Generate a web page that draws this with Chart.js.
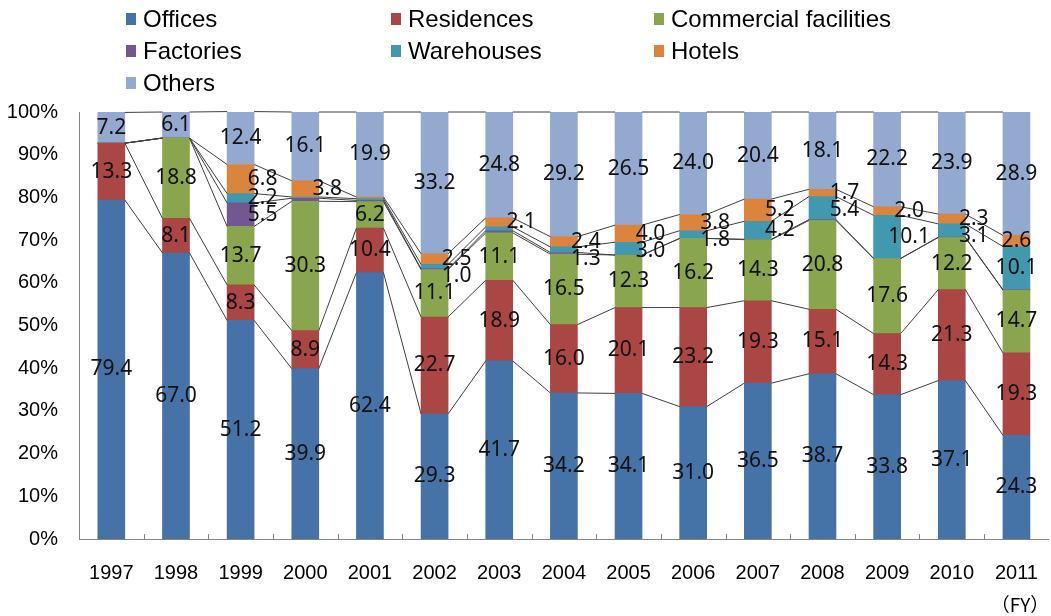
<!DOCTYPE html>
<html>
<head>
<meta charset="utf-8">
<script src="https://cdn.jsdelivr.net/npm/chart.js@4.4.0/dist/chart.umd.min.js"></script>
<style>
    body { margin: 0; overflow: hidden; background: #fff; width: 1051px; height: 616px; position: relative; font-family: 'Liberation Sans', Arial, sans-serif; }
    #wrap { position: absolute; left: 0; top: 0; width: 1060px; height: 616px; }
    #legend { position: absolute; left: 126px; top: 3px; display: grid; grid-template-columns: 265px 263px 300px; }
    .item { display: flex; align-items: center; height: 32px; font-size: 24px; color: #000; white-space: nowrap; }
    .sw { width: 10px; height: 12px; margin-right: 7px; flex: none; }
    #fy { position: absolute; left: 980px; width: 80px; text-align: center; top: 594px; line-height: 20px; font-size: 19px; font-family: 'Noto Sans CJK JP', sans-serif; color: #000; }
</style>
</head>
<body>
<div id="wrap"><canvas id="chart" width="1060" height="616"></canvas></div>
<div id="legend"></div>
<div id="fy">（FY）</div>
<script>
// 用途別構成比（%）
const years = ['1997', '1998', '1999', '2000', '2001', '2002', '2003', '2004', '2005', '2006', '2007', '2008', '2009', '2010', '2011'];
const offices     = [79.4, 67.0, 51.2, 39.9, 62.4, 29.3, 41.7, 34.2, 34.1, 31.0, 36.5, 38.7, 33.8, 37.1, 24.3];
const residences  = [13.3,  8.1,  8.3,  8.9, 10.4, 22.7, 18.9, 16.0, 20.1, 23.2, 19.3, 15.1, 14.3, 21.3, 19.3];
const commercial  = [ 0.0, 18.8, 13.7, 30.3,  6.2, 11.1, 11.1, 16.5, 12.3, 16.2, 14.3, 20.8, 17.6, 12.2, 14.7];
const factories   = [ 0.0,  0.0,  5.5,  0.7,  0.3,  0.2,  0.5,  0.4,  0.0,  0.0,  0.1,  0.2,  0.0,  0.1,  0.1];
const warehouses  = [ 0.0,  0.0,  2.2,  0.3,  0.4,  1.0,  0.9,  1.3,  3.0,  1.8,  4.2,  5.4, 10.1,  3.1, 10.1];
const hotels      = [ 0.0,  0.0,  6.8,  3.8,  0.4,  2.5,  2.1,  2.4,  4.0,  3.8,  5.2,  1.7,  2.0,  2.3,  2.6];
const others      = [ 7.2,  6.1, 12.4, 16.1, 19.9, 33.2, 24.8, 29.2, 26.5, 24.0, 20.4, 18.1, 22.2, 23.9, 28.9];

const seriesNames  = ['Offices', 'Residences', 'Commercial facilities', 'Factories', 'Warehouses', 'Hotels', 'Others'];
const seriesColors = ['#4572A7', '#AA4643', '#89A54E', '#71588F', '#4198AF', '#DB843D', '#93A9CF'];
const seriesValues = [offices, residences, commercial, factories, warehouses, hotels, others];
const yTicks = [0, 10, 20, 30, 40, 50, 60, 70, 80, 90, 100];

// small segments get their label beside the bar
const sideLabelled = [3, 4, 5];

// legend, three columns
const legend = document.getElementById('legend');
seriesNames.forEach((name, i) => {
    const item = document.createElement('div');
    item.className = 'item';
    item.innerHTML = '<span class="sw" style="background:' + seriesColors[i] + '"></span>' + name;
    legend.appendChild(item);
});

// lines joining each segment top to the same segment on the next bar
const seriesLines = {
    id: 'seriesLines',
    afterDatasetsDraw(chart) {
        const ctx = chart.ctx;
        ctx.save();
        ctx.strokeStyle = '#404040';
        ctx.lineWidth = 1;
        chart.data.datasets.forEach((ds, d) => {
            const bars = chart.getDatasetMeta(d).data;
            ctx.beginPath();
            for (let i = 0; i < bars.length - 1; i++) {
                const a = bars[i], b = bars[i + 1];
                ctx.moveTo(a.x + a.width / 2, a.y);
                ctx.lineTo(b.x - b.width / 2, b.y);
            }
            ctx.stroke();
        });
        ctx.restore();
    }
};

// value labels inside / beside the segments
const segmentLabels = {
    id: 'segmentLabels',
    afterDatasetsDraw(chart) {
        const ctx = chart.ctx;
        ctx.save();
        ctx.font = '21px "Noto Sans"';
        ctx.fillStyle = '#111';
        ctx.textAlign = 'center';
        ctx.textBaseline = 'middle';
        const n = chart.data.labels.length;
        for (let i = 0; i < n; i++) {
            let prevY = -Infinity;
            for (let d = chart.data.datasets.length - 1; d >= 0; d--) {
                const v = chart.data.datasets[d].data[i];
                if (v < 1) continue;
                const bar = chart.getDatasetMeta(d).data[i];
                const text = v.toFixed(1);
                let x = bar.x;
                let y = (bar.y + bar.base) / 2;
                if (sideLabelled.includes(d)) {
                    const w = ctx.measureText(text).width;
                    if (bar.x + 22 + w / 2 <= window.innerWidth) x += 22;
                }
                if (y < prevY + 17) y = prevY + 17;
                prevY = y;
                ctx.fillText(text, x, y);
            }
        }
        ctx.restore();
    }
};

// short inward ticks between categories
const innerTicks = {
    id: 'innerTicks',
    afterDraw(chart) {
        const ctx = chart.ctx;
        const xs = chart.scales.x;
        const bottom = chart.chartArea.bottom;
        ctx.save();
        ctx.strokeStyle = '#868686';
        ctx.lineWidth = 1;
        ctx.beginPath();
        for (let i = 1; i < years.length; i++) {
            const x = Math.round(xs.getPixelForValue(i - 0.5)) + 0.5;
            ctx.moveTo(x, bottom);
            ctx.lineTo(x, bottom - 5);
        }
        ctx.stroke();
        ctx.restore();
    }
};

new Chart(document.getElementById('chart'), {
    type: 'bar',
    data: {
        labels: years,
        datasets: seriesNames.map((name, i) => ({
            label: name,
            data: seriesValues[i],
            backgroundColor: seriesColors[i],
            borderWidth: 0,
            barThickness: 27
        }))
    },
    options: {
        responsive: false,
        animation: false,
        devicePixelRatio: 1,
        layout: { padding: { top: 112, right: 1.5, left: 0, bottom: 0 } },
        plugins: { legend: { display: false }, tooltip: { enabled: false } },
        scales: {
            x: {
                stacked: true,
                offset: true,
                grid: { display: false, drawTicks: false },
                border: { display: true, color: '#868686' },
                ticks: { color: '#000', font: { family: 'Liberation Sans', size: 20 }, padding: 22, maxRotation: 0, autoSkip: false },
                afterFit: s => { s.height = 77; }
            },
            y: {
                stacked: true,
                min: 0,
                max: 100,
                grid: { display: false, drawTicks: false },
                border: { display: true, color: '#868686' },
                afterBuildTicks: s => { s.ticks = yTicks.map(v => ({ value: v })); },
                ticks: { color: '#000', font: { family: 'Liberation Sans', size: 20 }, padding: 21, callback: v => v + '%' },
                afterFit: s => { s.width = 79; }
            }
        }
    },
    plugins: [seriesLines, segmentLabels, innerTicks]
});
</script>
</body>
</html>
